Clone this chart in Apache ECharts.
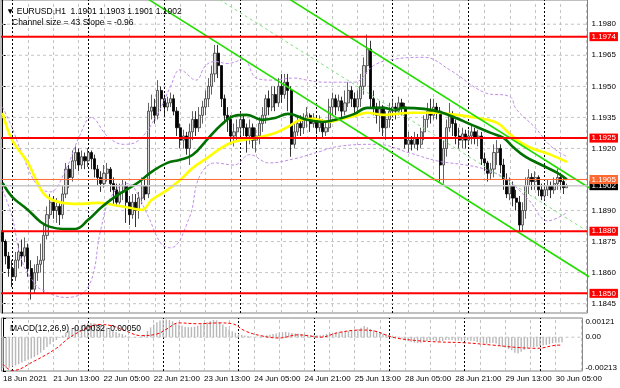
<!DOCTYPE html>
<html><head><meta charset="utf-8">
<script src="https://cdn.jsdelivr.net/npm/echarts@6/dist/echarts.min.js"></script>
<style>html,body{margin:0;padding:0;background:#fff}#c{width:620px;height:388px}</style>
</head><body><div id="c"></div>
<script>
// ---------- DATA ----------
const symbolTitle = 'EURUSD,H1';
const channelText = 'Channel size = 43 Slope = -0.96';
const macdText = 'MACD(12,26,9) -0.00032 -0.00050';
const slotCount = 185; // bar slots incl. right shift
const timeLabels = ['18 Jun 2021','21 Jun 13:00','22 Jun 05:00','22 Jun 21:00','23 Jun 13:00','24 Jun 05:00','24 Jun 21:00','25 Jun 13:00','28 Jun 05:00','28 Jun 21:00','29 Jun 13:00','30 Jun 05:00'];
const timeLabelStep = 16;
const gridStep = 8;
const daySeparators = [3,27,51,75,99,123,147,171];
const priceTicks = [1.1845,1.1860,1.1875,1.1890,1.1920,1.1935,1.1950,1.1965,1.1980];
const priceGrid = [1.1845,1.1860,1.1875,1.1890,1.1905,1.1920,1.1935,1.1950,1.1965,1.1980];
const priceMin = 1.18405, priceMax = 1.19917;
const redLevels = [1.1974,1.1925,1.1880,1.1850];
const orangeLevel = 1.1905;
const bidLevel = 1.1902;
const macdMin = -0.00213, macdMax = 0.00121;

const opens = [1.1880,1.1875,1.1868,1.1862,1.1858,1.1866,1.1870,1.1868,1.1872,1.1862,1.1852,1.1860,1.1864,1.1866,1.1878,1.1888,1.1894,1.1890,1.1892,1.1888,
1.1898,1.1910,1.1906,1.1914,1.1918,1.1912,1.1916,1.1914,1.1918,1.1915,1.1910,1.1906,1.1903,1.1908,1.1910,1.1903,1.1900,1.1894,1.1899,1.1902,
1.1894,1.1888,1.1894,1.1890,1.1896,1.1902,1.1898,1.1938,1.1940,1.1936,1.1948,1.1944,1.1940,1.1942,1.1944,1.1938,1.1930,1.1924,1.1926,1.1920,
1.1928,1.1934,1.1930,1.1936,1.1940,1.1944,1.1950,1.1956,1.1966,1.1960,1.1944,1.1936,1.1934,1.1926,1.1928,1.1930,1.1934,1.1930,1.1926,1.1930,
1.1924,1.1926,1.1932,1.1936,1.1944,1.1940,1.1946,1.1942,1.1950,1.1946,1.1952,1.1948,1.1922,1.1928,1.1932,1.1930,1.1934,1.1936,1.1932,1.1934,
1.1930,1.1933,1.1928,1.1930,1.1940,1.1944,1.1940,1.1943,1.1938,1.1942,1.1948,1.1944,1.1940,1.1944,1.1950,1.1960,1.1968,1.1944,1.1940,1.1936,
1.1940,1.1930,1.1934,1.1938,1.1940,1.1938,1.1942,1.1940,1.1922,1.1924,1.1922,1.1925,1.1922,1.1928,1.1934,1.1938,1.1936,1.1940,1.1938,1.1912,
1.1920,1.1930,1.1936,1.1932,1.1926,1.1924,1.1927,1.1924,1.1926,1.1928,1.1925,1.1926,1.1915,1.1913,1.1908,1.1910,1.1918,1.1920,1.1912,1.1905,
1.1898,1.1902,1.1896,1.1894,1.1883,1.1890,1.1902,1.1906,1.1904,1.1906,1.1900,1.1897,1.1900,1.1902,1.1900,1.1903,1.1906,1.1904,1.1901];
const closes = [1.1875,1.1868,1.1862,1.1858,1.1866,1.1870,1.1868,1.1872,1.1862,1.1852,1.1860,1.1864,1.1866,1.1878,1.1888,1.1894,1.1890,1.1892,1.1888,1.1898,
1.1910,1.1906,1.1914,1.1918,1.1912,1.1916,1.1914,1.1918,1.1915,1.1910,1.1906,1.1903,1.1908,1.1910,1.1903,1.1900,1.1894,1.1899,1.1902,1.1894,
1.1888,1.1894,1.1890,1.1896,1.1902,1.1898,1.1938,1.1940,1.1936,1.1948,1.1944,1.1940,1.1942,1.1944,1.1938,1.1930,1.1924,1.1926,1.1920,1.1928,
1.1934,1.1930,1.1936,1.1940,1.1944,1.1950,1.1956,1.1966,1.1960,1.1944,1.1936,1.1934,1.1926,1.1928,1.1930,1.1934,1.1930,1.1926,1.1930,1.1924,
1.1926,1.1932,1.1936,1.1944,1.1940,1.1946,1.1942,1.1950,1.1946,1.1952,1.1948,1.1922,1.1928,1.1932,1.1930,1.1934,1.1936,1.1932,1.1934,1.1930,
1.1933,1.1928,1.1930,1.1940,1.1944,1.1940,1.1943,1.1938,1.1942,1.1948,1.1944,1.1940,1.1944,1.1950,1.1960,1.1968,1.1944,1.1940,1.1936,1.1940,
1.1930,1.1934,1.1938,1.1940,1.1938,1.1942,1.1940,1.1922,1.1924,1.1922,1.1925,1.1922,1.1928,1.1934,1.1938,1.1936,1.1940,1.1938,1.1912,1.1920,
1.1930,1.1936,1.1932,1.1926,1.1924,1.1927,1.1924,1.1926,1.1928,1.1925,1.1926,1.1915,1.1913,1.1908,1.1910,1.1918,1.1920,1.1912,1.1905,1.1898,
1.1902,1.1896,1.1894,1.1883,1.1890,1.1902,1.1906,1.1904,1.1906,1.1900,1.1897,1.1900,1.1902,1.1900,1.1903,1.1906,1.1904,1.1901,1.1902];
const highs = [1.1881,1.1876,1.1870,1.1866,1.1870,1.1874,1.1876,1.1877,1.1874,1.1866,1.1864,1.1868,1.1874,1.1883,1.1892,1.1898,1.1897,1.1896,1.1894,1.1902,
1.1913,1.1912,1.1919,1.1921,1.1920,1.1919,1.1918,1.1920,1.1919,1.1917,1.1912,1.1909,1.1912,1.1913,1.1911,1.1906,1.1903,1.1903,1.1905,1.1904,
1.1897,1.1898,1.1898,1.1899,1.1906,1.1905,1.1942,1.1946,1.1944,1.1953,1.1950,1.1946,1.1945,1.1947,1.1946,1.1940,1.1932,1.1929,1.1928,1.1932,
1.1938,1.1938,1.1940,1.1943,1.1948,1.1954,1.1960,1.1970,1.1970,1.1960,1.1946,1.1940,1.1936,1.1932,1.1934,1.1938,1.1936,1.1932,1.1934,1.1932,
1.1930,1.1935,1.1940,1.1946,1.1948,1.1950,1.1950,1.1954,1.1956,1.1956,1.1956,1.1950,1.1932,1.1936,1.1936,1.1937,1.1940,1.1937,1.1937,1.1936,
1.1936,1.1934,1.1933,1.1944,1.1947,1.1946,1.1946,1.1945,1.1948,1.1952,1.1950,1.1947,1.1948,1.1956,1.1964,1.1975,1.1972,1.1948,1.1942,1.1943,
1.1941,1.1938,1.1942,1.1944,1.1942,1.1945,1.1944,1.1942,1.1928,1.1926,1.1928,1.1927,1.1930,1.1936,1.1942,1.1944,1.1944,1.1942,1.1940,1.1924,
1.1934,1.1942,1.1938,1.1934,1.1930,1.1930,1.1929,1.1929,1.1931,1.1930,1.1929,1.1928,1.1918,1.1914,1.1913,1.1922,1.1924,1.1922,1.1915,1.1908,
1.1906,1.1904,1.1900,1.1897,1.1894,1.1906,1.1910,1.1908,1.1909,1.1907,1.1903,1.1903,1.1905,1.1904,1.1906,1.1910,1.1908,1.1906,1.1903];
const lows = [1.1870,1.1864,1.1858,1.1853,1.1856,1.1862,1.1863,1.1865,1.1858,1.1847,1.1850,1.1856,1.1860,1.1850,1.1876,1.1886,1.1886,1.1884,1.1883,1.1886,
1.1896,1.1901,1.1904,1.1910,1.1909,1.1910,1.1910,1.1911,1.1910,1.1906,1.1902,1.1899,1.1901,1.1904,1.1899,1.1893,1.1892,1.1893,1.1895,1.1884,
1.1883,1.1886,1.1882,1.1886,1.1893,1.1895,1.1896,1.1934,1.1932,1.1934,1.1938,1.1936,1.1938,1.1940,1.1936,1.1926,1.1920,1.1920,1.1917,1.1912,
1.1924,1.1926,1.1928,1.1932,1.1936,1.1940,1.1946,1.1952,1.1954,1.1940,1.1932,1.1928,1.1922,1.1921,1.1924,1.1926,1.1926,1.1918,1.1922,1.1920,
1.1918,1.1922,1.1928,1.1932,1.1936,1.1938,1.1938,1.1940,1.1942,1.1944,1.1938,1.1916,1.1920,1.1926,1.1926,1.1927,1.1930,1.1928,1.1930,1.1927,
1.1928,1.1925,1.1926,1.1928,1.1936,1.1936,1.1938,1.1935,1.1936,1.1940,1.1940,1.1936,1.1938,1.1940,1.1946,1.1956,1.1940,1.1936,1.1932,1.1928,
1.1926,1.1924,1.1930,1.1936,1.1934,1.1936,1.1936,1.1920,1.1918,1.1919,1.1920,1.1919,1.1920,1.1924,1.1930,1.1932,1.1934,1.1934,1.1904,1.1903,
1.1916,1.1928,1.1926,1.1922,1.1920,1.1920,1.1920,1.1922,1.1922,1.1922,1.1921,1.1912,1.1909,1.1904,1.1905,1.1906,1.1912,1.1908,1.1900,1.1896,
1.1895,1.1892,1.1890,1.1880,1.1880,1.1886,1.1898,1.1900,1.1900,1.1897,1.1895,1.1895,1.1897,1.1896,1.1898,1.1900,1.1900,1.1898,1.1901];

// moving averages: [bar index, price]
const maGreen = [[0,1.19033],[3,1.18966],[8,1.18903],[12,1.18845],[15,1.18821],[19,1.18811],[23,1.18811],[27,1.18855],[31,1.18913],[35,1.18961],
[39,1.19000],[43,1.19038],[47,1.19087],[52,1.19130],[56,1.19145],[60,1.19169],[65,1.19251],[69,1.19314],[73,1.19357],[77,1.19362],[82,1.19338],
[86,1.19347],[90,1.19367],[92,1.19362],[96,1.19338],[101,1.19328],[107,1.19347],[111,1.19367],[115,1.19396],[120,1.19396],[124,1.19386],
[126,1.19396],[133,1.19391],[138,1.19376],[143,1.19347],[148,1.19314],[154,1.19275],[158,1.19251],[161,1.19207],[165,1.19159],[170,1.19120],
[175,1.19082],[178,1.19050]];
const maYellow = [[0,1.19372],[3,1.19241],[8,1.19130],[11,1.19033],[14,1.18966],[19,1.18937],[24,1.18932],[30,1.18937],[35,1.18927],[40,1.18913],
[44,1.18903],[47,1.18951],[52,1.19000],[56,1.19048],[60,1.19106],[65,1.19159],[69,1.19203],[73,1.19232],[80,1.19251],[86,1.19275],[90,1.19304],
[94,1.19338],[98,1.19343],[103,1.19328],[107,1.19343],[111,1.19357],[115,1.19372],[120,1.19362],[124,1.19367],[129,1.19372],[137,1.19372],
[143,1.19362],[150,1.19347],[156,1.19323],[161,1.19256],[166,1.19207],[173,1.19169],[178,1.19135]];
const bandUpper = [[0,1.1940],[3,1.1930],[6,1.1918],[11,1.1902],[15,1.1899],[20,1.1910],[24,1.1925],[28,1.1935],[33,1.1926],[38,1.1922],[43,1.1924],
[49,1.1937],[53,1.1950],[56,1.1958],[61,1.1953],[64,1.1960],[67,1.1962],[71,1.1961],[76,1.1963],[80,1.1954],[85,1.1953],[92,1.1954],[96,1.1953],
[101,1.1952],[105,1.1952],[111,1.1952],[117,1.1960],[123,1.1963],[133,1.1964],[141,1.1958],[152,1.1947],[160,1.1945],[162,1.1939],[168,1.1930],
[173,1.1921],[178,1.1916]];
const bandLower = [[0,1.1900],[3,1.1887],[6,1.1866],[10,1.1855],[12,1.1852],[20,1.1848],[27,1.1853],[31,1.1881],[34,1.1896],[39,1.1903],[41,1.1902],
[46,1.1887],[50,1.1874],[53,1.1872],[59,1.1887],[62,1.1906],[67,1.1913],[73,1.1912],[78,1.1917],[84,1.1913],[92,1.1915],[99,1.1918],[106,1.1921],
[118,1.1922],[128,1.1918],[137,1.1914],[146,1.1912],[152,1.1910],[159,1.1905],[166,1.1895],[172,1.1885],[178,1.1889]];
// regression channel anchor points: [bar index, price]
const channelLower = [[46,1.1992],[185,1.1858]];
const channelUpper = [[46,1.2035],[185,1.1901]];
const channelMid = [[46,1.20135],[185,1.18795]];

const macdHist = [-0.00195,-0.00196,-0.00192,-0.00185,-0.00178,-0.00170,-0.00160,-0.00150,-0.00142,-0.00135,-0.00125,-0.00112,-0.00098,-0.00080,-0.00062,
-0.00045,-0.00030,-0.00018,-0.00005,0.00010,0.00028,0.00040,0.00055,0.00065,0.00070,0.00078,0.00082,0.00088,0.00090,0.00088,0.00082,0.00075,0.00068,
0.00060,0.00050,0.00040,0.00032,0.00025,0.00020,0.00012,0.00005,0.00002,-0.00003,-0.00002,0.00005,0.00015,0.00040,0.00062,0.00080,0.00095,0.00105,
0.00110,0.00112,0.00108,0.00100,0.00090,0.00080,0.00072,0.00065,0.00062,0.00064,0.00066,0.00072,0.00080,0.00088,0.00095,0.00102,0.00108,0.00106,
0.00095,0.00080,0.00065,0.00050,0.00038,0.00028,0.00020,0.00015,0.00010,0.00008,0.00004,0.00002,0.00003,0.00005,0.00008,0.00012,0.00016,0.00020,
0.00024,0.00028,0.00032,0.00034,0.00030,0.00026,0.00024,0.00022,0.00020,0.00018,0.00016,0.00014,0.00012,0.00012,0.00013,0.00015,0.00020,0.00025,
0.00028,0.00030,0.00030,0.00032,0.00036,0.00040,0.00042,0.00046,0.00052,0.00060,0.00070,0.00062,0.00052,0.00044,0.00036,0.00028,0.00022,0.00018,
0.00014,0.00010,0.00006,0.00002,-0.00008,-0.00016,-0.00024,-0.00030,-0.00035,-0.00038,-0.00036,-0.00030,-0.00024,-0.00020,-0.00018,-0.00025,
-0.00028,-0.00024,-0.00018,-0.00016,-0.00018,-0.00020,-0.00021,-0.00022,-0.00022,-0.00020,-0.00022,-0.00024,-0.00030,-0.00035,-0.00040,-0.00042,
-0.00038,-0.00035,-0.00040,-0.00050,-0.00060,-0.00066,-0.00074,-0.00082,-0.00098,-0.00103,-0.00092,-0.00080,-0.00072,-0.00065,-0.00062,-0.00060,
-0.00056,-0.00052,-0.00048,-0.00044,-0.00038,-0.00035,-0.00033,-0.00032];
const macdSignal = [[0,-0.0017],[3,-0.00210],[10,-0.0015],[17,-0.0007],[21,-0.00005],[27,0.0006],[31,0.0008],[35,0.0007],[39,0.0004],[44,0.0001],
[49,0.0002],[52,0.0005],[56,0.0009],[62,0.00085],[69,0.0009],[73,0.00085],[77,0.0004],[82,0.0001],[88,-0.00005],[94,0.00015],[97,0.0001],
[101,0.0],[107,0.0003],[114,0.00045],[118,0.0004],[124,0.0],[131,-0.0002],[139,-0.0003],[147,-0.00035],[156,-0.0005],[164,-0.00065],
[170,-0.0007],[177,-0.0005],[178,-0.0005]];

// ---------- CHART ----------
const FONT = 'Liberation Sans';
const cats = Array.from({length: slotCount}, (_, i) => String(i));
const candles = closes.map((c, i) => [opens[i], c, lows[i], highs[i]]);
const last = closes.length - 1;
const headerText = '\u25BC ' + symbolTitle + '  ' + [opens[last], highs[last], lows[last], closes[last]].map(v => v.toFixed(4)).join(' ');
const xLo = -0.5, xHi = slotCount - 0.5;

const vGridIdx = [];
for (let i = 0; i < slotCount; i += gridStep) vGridIdx.push(i);

const gridLine = {color: '#c4c4c4', type: [3, 3], width: 1};
const sepLine = {color: '#000', type: [2, 2], width: 1};

// horizontal line across the plot, drawn as a 2-point line series
function hLine(v, xAxisIndex, yAxisIndex, lineStyle, z, labelBg) {
  const s = {type: 'line', xAxisIndex, yAxisIndex, data: [[xLo, v], [xHi, v]], symbol: 'none', silent: true, z,
    lineStyle, clip: false};
  if (labelBg) {
    s.endLabel = {show: true, formatter: () => v.toFixed(4), backgroundColor: labelBg, color: '#fff',
      fontFamily: FONT, fontSize: 8, padding: [1, 2, 0, 2], distance: 2};
  }
  return s;
}
const anchorMain = [[-3, priceMin]];
const anchorMacd = [[-3, 0]];

const series = [];
// grid lines (horizontal)
priceGrid.forEach(v => series.push(hLine(v, 2, 0, gridLine, 0)));
series.push(hLine(0, 3, 1, gridLine, 0));
// vertical grid lines + day separators
series.push({name: 'vgridMain', type: 'line', xAxisIndex: 2, yAxisIndex: 0, data: anchorMain, symbol: 'none', silent: true, z: 0,
  markLine: {silent: true, symbol: ['none', 'none'], z: 0, label: {show: false}, lineStyle: gridLine, animation: false,
    data: [...vGridIdx.map(i => ({xAxis: i})), ...daySeparators.map(i => ({xAxis: i, lineStyle: sepLine}))]}});
series.push({name: 'vgridMacd', type: 'line', xAxisIndex: 3, yAxisIndex: 1, data: anchorMacd, symbol: 'none', silent: true, z: 0,
  markLine: {silent: true, symbol: ['none', 'none'], z: 0, label: {show: false}, lineStyle: gridLine, animation: false,
    data: [...vGridIdx.map(i => ({xAxis: i})), ...daySeparators.map(i => ({xAxis: i, lineStyle: sepLine}))]}});
series.push(
  {name: 'EURUSD', type: 'candlestick', xAxisIndex: 0, yAxisIndex: 0, data: candles, barWidth: 2.6, z: 2,
    itemStyle: {color: '#d8d8d8', color0: '#000000', borderColor: '#3a3a3a', borderColor0: '#000000', borderWidth: 0.8}},
  {name: 'bandUpper', type: 'line', xAxisIndex: 2, yAxisIndex: 0, data: bandUpper, smooth: 0.4, symbol: 'none', z: 3,
    lineStyle: {color: '#c08ee8', width: 1, type: [3, 2]}},
  {name: 'bandLower', type: 'line', xAxisIndex: 2, yAxisIndex: 0, data: bandLower, smooth: 0.4, symbol: 'none', z: 3,
    lineStyle: {color: '#c08ee8', width: 1, type: [3, 2]}},
  {name: 'maYellow', type: 'line', xAxisIndex: 2, yAxisIndex: 0, data: maYellow, smooth: 0.4, symbol: 'none', z: 4,
    lineStyle: {color: '#ffff00', width: 2.6}},
  {name: 'maGreen', type: 'line', xAxisIndex: 2, yAxisIndex: 0, data: maGreen, smooth: 0.4, symbol: 'none', z: 4,
    lineStyle: {color: '#007000', width: 2.6}},
  {name: 'channelMid', type: 'line', xAxisIndex: 2, yAxisIndex: 0, data: channelMid, symbol: 'none', z: 5,
    lineStyle: {color: '#7fe07f', width: 1, type: [3, 3]}},
  {name: 'channelLower', type: 'line', xAxisIndex: 2, yAxisIndex: 0, data: channelLower, symbol: 'none', z: 5,
    lineStyle: {color: '#22dd00', width: 1.6}},
  {name: 'channelUpper', type: 'line', xAxisIndex: 2, yAxisIndex: 0, data: channelUpper, symbol: 'none', z: 5,
    lineStyle: {color: '#22dd00', width: 1.6}}
);
// price levels with right-axis labels
series.push(hLine(bidLevel, 2, 0, {color: '#c8c8c8', width: 1.5}, 6, '#000000'));
series.push(hLine(orangeLevel, 2, 0, {color: '#ff6a33', width: 1}, 6, '#ff6a33'));
redLevels.forEach(v => series.push(hLine(v, 2, 0, {color: '#ff0000', width: 2}, 7, '#ff0000')));
series.push(
  {name: 'MACD', type: 'bar', xAxisIndex: 1, yAxisIndex: 1, data: macdHist, barWidth: 1.4, z: 2, itemStyle: {color: '#b8b8b8'}},
  {name: 'Signal', type: 'line', xAxisIndex: 3, yAxisIndex: 1, data: macdSignal, smooth: 0.4, symbol: 'none', z: 3,
    lineStyle: {color: '#ff0000', width: 1, type: [3, 2]}}
);

const chart = echarts.init(document.getElementById('c'), null, {renderer: 'canvas'});
chart.setOption({
  animation: false,
  backgroundColor: '#fff',
  textStyle: {fontFamily: FONT},
  title: [
    {text: headerText, left: 1, top: 2, textStyle: {fontSize: 8.5, fontWeight: 'normal', color: '#000', fontFamily: FONT}},
    {text: channelText, left: 7, top: 13, textStyle: {fontSize: 8.5, fontWeight: 'normal', color: '#000', fontFamily: FONT}},
    {text: macdText, left: 5, top: 319, textStyle: {fontSize: 8.5, fontWeight: 'normal', color: '#000', fontFamily: FONT}}
  ],
  grid: [
    {left: 1, right: 32.5, top: 0, height: 313, show: true, borderColor: '#808080', borderWidth: 1},
    {left: 1, right: 32.5, top: 318, height: 53, show: true, borderColor: '#808080', borderWidth: 1}
  ],
  xAxis: [
    {type: 'category', gridIndex: 0, data: cats, boundaryGap: true, show: false},
    {type: 'category', gridIndex: 1, data: cats, boundaryGap: true,
      axisLine: {show: false}, axisTick: {show: false}, splitLine: {show: false},
      axisLabel: {interval: (i) => i % timeLabelStep === 0, align: 'left', margin: 4, fontSize: 8, color: '#000', fontFamily: FONT,
        formatter: (v, i) => timeLabels[i / timeLabelStep] || ''}},
    {type: 'value', gridIndex: 0, min: xLo, max: xHi, show: false},
    {type: 'value', gridIndex: 1, min: xLo, max: xHi, show: false}
  ],
  yAxis: [
    {type: 'value', gridIndex: 0, position: 'right', min: priceMin, max: priceMax, scale: true,
      axisLine: {show: true, lineStyle: {color: '#000'}},
      axisTick: {show: true, length: 3, customValues: priceTicks, lineStyle: {color: '#000'}},
      axisLabel: {customValues: priceTicks, formatter: v => v.toFixed(4), fontSize: 8, color: '#000', margin: 4, fontFamily: FONT},
      splitLine: {show: false}},
    {type: 'value', gridIndex: 1, position: 'right', min: macdMin, max: macdMax,
      axisLine: {show: true, lineStyle: {color: '#000'}},
      axisTick: {show: true, length: 3, customValues: [macdMin, 0, macdMax], lineStyle: {color: '#000'}},
      axisLabel: {customValues: [macdMin, 0, macdMax], margin: 3, fontSize: 8, color: '#000', fontFamily: FONT,
        formatter: v => v === 0 ? '{m|0.00}' : (v > 0 ? '{t|' + macdMax.toFixed(5) + '}' : '{b|' + macdMin.toFixed(5) + '}'),
        rich: {m: {fontSize: 8, fontFamily: FONT, color: '#000'},
               t: {fontSize: 8, fontFamily: FONT, color: '#000', padding: [8, 0, 0, 0]},
               b: {fontSize: 8, fontFamily: FONT, color: '#000', padding: [0, 0, 6, 0]}}},
      splitLine: {show: false}}
  ],
  series
});
</script></body></html>
